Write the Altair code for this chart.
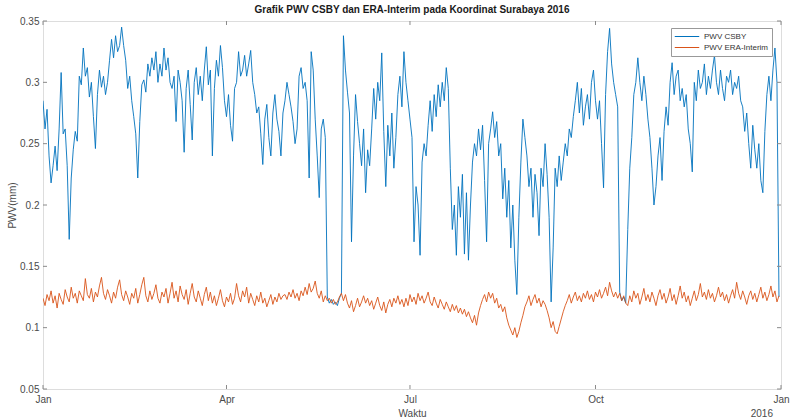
import altair as alt
import pandas as pd

TITLE = "Grafik PWV CSBY dan ERA-Interim pada Koordinat Surabaya 2016"
SERIES = ["PWV CSBY", "PWV ERA-Interim"]
COLORS = ["#0072BD", "#D95319"]
Y_TICKS = [0.05, 0.1, 0.15, 0.2, 0.25, 0.3, 0.35]
X_TICKS = ["2016-01-01", "2016-04-01", "2016-07-01", "2016-10-01", "2017-01-01"]
YEAR_LABEL = "2016"

# daily PWV CSBY, 2016-01-01 .. 2016-12-31
csby = [
    0.285, 0.262, 0.278, 0.24, 0.218, 0.232, 0.248, 0.228, 0.262, 0.308,
    0.258, 0.262, 0.232, 0.172, 0.222, 0.245, 0.26, 0.252, 0.305, 0.298,
    0.328, 0.305, 0.312, 0.288, 0.3, 0.272, 0.246, 0.29, 0.31, 0.296,
    0.305, 0.29, 0.3, 0.318, 0.335, 0.32, 0.338, 0.325, 0.33, 0.345,
    0.33, 0.318, 0.295, 0.305, 0.285, 0.272, 0.258, 0.222, 0.268, 0.298,
    0.302, 0.292, 0.315, 0.305, 0.32, 0.31, 0.325, 0.3, 0.315, 0.305,
    0.328, 0.31, 0.32, 0.3, 0.295, 0.305, 0.268, 0.31, 0.3, 0.285,
    0.243, 0.295, 0.31, 0.282, 0.253, 0.3, 0.312, 0.29, 0.305, 0.285,
    0.31, 0.329, 0.298, 0.31, 0.24, 0.295, 0.318, 0.305, 0.33, 0.312,
    0.285, 0.272, 0.29, 0.265, 0.252, 0.295, 0.3, 0.325, 0.305, 0.31,
    0.322, 0.305, 0.315, 0.326, 0.3, 0.29, 0.275, 0.28, 0.258, 0.233,
    0.27, 0.282, 0.255, 0.24, 0.275, 0.29, 0.27, 0.26, 0.24, 0.275,
    0.285, 0.3, 0.29, 0.28, 0.268, 0.25, 0.262, 0.305, 0.312, 0.295,
    0.3, 0.285, 0.222, 0.325, 0.31, 0.27, 0.24, 0.206, 0.262, 0.27,
    0.255, 0.125, 0.12, 0.123, 0.119, 0.121, 0.118, 0.124, 0.128, 0.338,
    0.31, 0.292, 0.275, 0.17, 0.24, 0.29, 0.268, 0.25, 0.232, 0.262,
    0.21, 0.245, 0.232, 0.262, 0.295, 0.27, 0.3, 0.285, 0.324, 0.26,
    0.215, 0.265, 0.24, 0.275, 0.23, 0.255, 0.29, 0.305, 0.28, 0.325,
    0.3, 0.285, 0.27, 0.255, 0.17, 0.215, 0.2, 0.159, 0.235, 0.25,
    0.24, 0.265, 0.285, 0.26, 0.29, 0.272, 0.298, 0.28, 0.3, 0.285,
    0.312, 0.295, 0.23, 0.18, 0.2, 0.159, 0.215, 0.19, 0.225, 0.16,
    0.21, 0.155, 0.2, 0.235, 0.25, 0.24, 0.262, 0.245, 0.265, 0.22,
    0.17, 0.25, 0.262, 0.276, 0.255, 0.268, 0.24, 0.25, 0.205, 0.23,
    0.19, 0.22, 0.165, 0.2, 0.155, 0.127, 0.19, 0.235, 0.27, 0.255,
    0.24, 0.215, 0.23, 0.19, 0.225, 0.21, 0.175, 0.23, 0.215, 0.25,
    0.225, 0.19, 0.121, 0.165, 0.23, 0.215, 0.24, 0.22, 0.235, 0.25,
    0.24, 0.262, 0.255, 0.272, 0.285, 0.3, 0.275, 0.295, 0.265, 0.28,
    0.29, 0.27, 0.3, 0.31, 0.285, 0.27, 0.285, 0.25, 0.214, 0.29,
    0.325, 0.344, 0.315, 0.3, 0.29, 0.28, 0.129, 0.122, 0.125, 0.12,
    0.18, 0.23, 0.255, 0.29, 0.3, 0.32, 0.3, 0.285, 0.305, 0.29,
    0.27, 0.255, 0.23, 0.2, 0.215, 0.24, 0.255, 0.22, 0.26, 0.28,
    0.265, 0.3, 0.316, 0.29, 0.305, 0.31, 0.285, 0.295, 0.28, 0.29,
    0.262, 0.25, 0.227, 0.3, 0.285, 0.31, 0.295, 0.3, 0.315, 0.29,
    0.305, 0.295, 0.31, 0.322, 0.3, 0.29, 0.31, 0.295, 0.285, 0.305,
    0.3, 0.31, 0.29, 0.3, 0.295, 0.305, 0.285, 0.28, 0.26, 0.275,
    0.25, 0.23, 0.265, 0.245, 0.23, 0.25, 0.22, 0.21, 0.26, 0.29,
    0.305, 0.285, 0.31, 0.328, 0.3, 0.125,
]

# daily PWV ERA-Interim
era = [
    0.124, 0.118, 0.127, 0.122, 0.13, 0.12, 0.126, 0.116, 0.128, 0.123,
    0.119, 0.131, 0.125, 0.121, 0.133, 0.124, 0.128, 0.12, 0.13, 0.126,
    0.122, 0.14, 0.127, 0.124, 0.132, 0.121, 0.129, 0.125, 0.134, 0.141,
    0.128, 0.123, 0.131, 0.126, 0.12, 0.129, 0.124, 0.133, 0.139, 0.127,
    0.122, 0.13, 0.125, 0.119, 0.128, 0.124, 0.132, 0.12, 0.127, 0.135,
    0.141, 0.126, 0.121, 0.13, 0.123, 0.128, 0.135, 0.124, 0.12, 0.129,
    0.125, 0.132, 0.12, 0.128, 0.137, 0.124, 0.13, 0.121, 0.134, 0.127,
    0.123, 0.131, 0.119, 0.128, 0.136, 0.125, 0.121, 0.13, 0.124, 0.118,
    0.127, 0.133, 0.122, 0.129, 0.12, 0.126, 0.118, 0.124, 0.131, 0.122,
    0.117, 0.125, 0.121, 0.128, 0.119, 0.124, 0.136, 0.126, 0.121, 0.13,
    0.125, 0.133, 0.12, 0.128, 0.123, 0.118, 0.126, 0.121, 0.129, 0.12,
    0.124, 0.117, 0.122, 0.127, 0.119, 0.125, 0.121, 0.128, 0.123, 0.126,
    0.127, 0.123, 0.129, 0.125, 0.131, 0.124, 0.128, 0.122, 0.13, 0.126,
    0.133, 0.127, 0.136, 0.129, 0.132, 0.138, 0.128, 0.124, 0.13, 0.121,
    0.126, 0.122, 0.124, 0.12, 0.123, 0.119, 0.121, 0.125, 0.128, 0.122,
    0.127, 0.12, 0.116, 0.122, 0.113, 0.118, 0.124, 0.117, 0.121, 0.126,
    0.12, 0.124, 0.118, 0.122, 0.115, 0.12, 0.125, 0.118, 0.114, 0.121,
    0.112, 0.119, 0.123, 0.117, 0.124, 0.12, 0.126, 0.119, 0.123, 0.117,
    0.124, 0.118, 0.127, 0.121, 0.125, 0.119, 0.128, 0.122, 0.126, 0.12,
    0.124, 0.129, 0.121, 0.118, 0.125, 0.12, 0.116, 0.123, 0.119, 0.115,
    0.121, 0.117, 0.113, 0.119, 0.114, 0.118, 0.112, 0.116, 0.111, 0.115,
    0.109, 0.113, 0.108, 0.104, 0.11, 0.102, 0.112, 0.118, 0.123, 0.127,
    0.121, 0.129, 0.124, 0.128, 0.12, 0.124, 0.116, 0.119, 0.113, 0.117,
    0.108, 0.102, 0.098, 0.094, 0.1, 0.092, 0.097, 0.104, 0.11, 0.117,
    0.121, 0.126, 0.118, 0.123, 0.127, 0.12, 0.124, 0.117, 0.122, 0.119,
    0.114, 0.108, 0.1, 0.105, 0.097, 0.095, 0.101, 0.107, 0.113, 0.118,
    0.122, 0.127, 0.12, 0.125, 0.129, 0.122, 0.126, 0.121, 0.128, 0.124,
    0.13, 0.123, 0.127, 0.121, 0.129, 0.125, 0.131, 0.124, 0.128, 0.133,
    0.126, 0.137, 0.13, 0.125, 0.129, 0.124, 0.128, 0.122, 0.126, 0.12,
    0.118, 0.126, 0.121, 0.13, 0.124, 0.128, 0.119, 0.125, 0.132, 0.122,
    0.127, 0.121, 0.129, 0.124, 0.118, 0.126, 0.131, 0.123, 0.128, 0.12,
    0.125, 0.132, 0.122, 0.127, 0.119, 0.126, 0.134, 0.124, 0.129, 0.121,
    0.126, 0.118, 0.124, 0.13, 0.122, 0.127, 0.136, 0.125, 0.129, 0.123,
    0.131, 0.124, 0.128, 0.121, 0.126, 0.133, 0.125, 0.129, 0.122, 0.127,
    0.12, 0.126, 0.131, 0.124, 0.137, 0.128, 0.123, 0.13, 0.125, 0.119,
    0.126, 0.13, 0.123, 0.128, 0.121, 0.127, 0.133, 0.124, 0.129, 0.122,
    0.127, 0.134, 0.125, 0.13, 0.121, 0.126,
]

dates = pd.date_range("2016-01-01", periods=len(csby), freq="D").strftime("%Y-%m-%d").tolist()

df = pd.concat([
    pd.DataFrame({"date": dates, "value": csby, "series": SERIES[0], "ord": 0}),
    pd.DataFrame({"date": dates, "value": era, "series": SERIES[1], "ord": 1}),
])

W, H = 738, 368
FONT = "Liberation Sans"
AXC = "#8a8a8a"
LBC = "#4a4a4a"

xscale = alt.Scale(type="utc", domain=[alt.DateTime(year=2016, month=1, date=1, utc=True),
                                       alt.DateTime(year=2017, month=1, date=1, utc=True)])
yscale = alt.Scale(domain=[0.05, 0.35], nice=False, zero=False)

lines = alt.Chart(df).mark_line(strokeWidth=0.9, clip=True).encode(
    x=alt.X("date:T", scale=xscale, title="Waktu",
            axis=alt.Axis(values=[alt.DateTime(year=int(d[:4]), month=int(d[5:7]), date=1, utc=True) for d in X_TICKS],
                          labelExpr="utcFormat(datum.value, '%b')", ticks=False, domain=False, grid=False,
                          labelFlush=False, labelOverlap=False,
                          labelFontSize=10, labelColor=LBC, labelPadding=5, labelFont=FONT,
                          titleFont=FONT, titleFontSize=10, titleFontWeight="normal", titleColor=LBC,
                          titlePadding=4)),
    y=alt.Y("value:Q", scale=yscale, title="PWV(mm)",
            axis=alt.Axis(values=Y_TICKS, format="~g", ticks=False, domain=False, grid=False,
                          labelFontSize=10, labelColor=LBC, labelPadding=4, labelFont=FONT,
                          titleFont=FONT, titleFontSize=10, titleFontWeight="normal", titleColor=LBC,
                          titleX=-26, titleY=H / 2)),
    color=alt.Color("series:N", scale=alt.Scale(domain=SERIES, range=COLORS),
                    legend=alt.Legend(title=None, orient="none", legendX=628, legendY=7,
                                      symbolType="stroke", symbolSize=600, symbolStrokeWidth=1,
                                      clipHeight=11, labelFontSize=8, labelFont=FONT, labelColor="#333",
                                      strokeColor="#999", fillColor="white", padding=3,
                                      rowPadding=0, labelOffset=4)),
    order=alt.Order("ord:Q"),
    detail="series:N",
)

ytick_df = pd.DataFrame({"v": Y_TICKS})
xtick_df = pd.DataFrame({"d": X_TICKS})

ytl = alt.Chart(ytick_df).mark_rule(color=AXC, strokeWidth=1).encode(
    y=alt.Y("v:Q", scale=yscale), x=alt.value(0), x2=alt.value(4))
ytr = alt.Chart(ytick_df).mark_rule(color=AXC, strokeWidth=1).encode(
    y=alt.Y("v:Q", scale=yscale), x=alt.value(W - 4), x2=alt.value(W))
xtb = alt.Chart(xtick_df).mark_rule(color=AXC, strokeWidth=1).encode(
    x=alt.X("d:T", scale=xscale), y=alt.value(H - 4), y2=alt.value(H))
xtt = alt.Chart(xtick_df).mark_rule(color=AXC, strokeWidth=1).encode(
    x=alt.X("d:T", scale=xscale), y=alt.value(0), y2=alt.value(4))

year_df = pd.DataFrame({"d": [X_TICKS[-1]], "t": [YEAR_LABEL]})
year_txt = alt.Chart(year_df).mark_text(align="right", baseline="middle", dx=-8, fontSize=10,
                                        font=FONT, color=LBC).encode(
    x=alt.X("d:T", scale=xscale), y=alt.value(H + 25), text="t:N")

chart = alt.layer(lines, ytl, ytr, xtb, xtt, year_txt).properties(
    width=W, height=H,
    title=alt.Title(TITLE, fontSize=10, fontWeight="bold", font=FONT, color="#1a1a1a",
                    anchor="middle", offset=1),
    autosize=alt.AutoSizeParams(type="none"),
    padding={"left": 43, "top": 21, "right": 10, "bottom": 30},
).configure_view(stroke=AXC, strokeWidth=1).configure(background="white")

chart.save("out.html", embed_options={"renderer": "svg", "actions": False})
